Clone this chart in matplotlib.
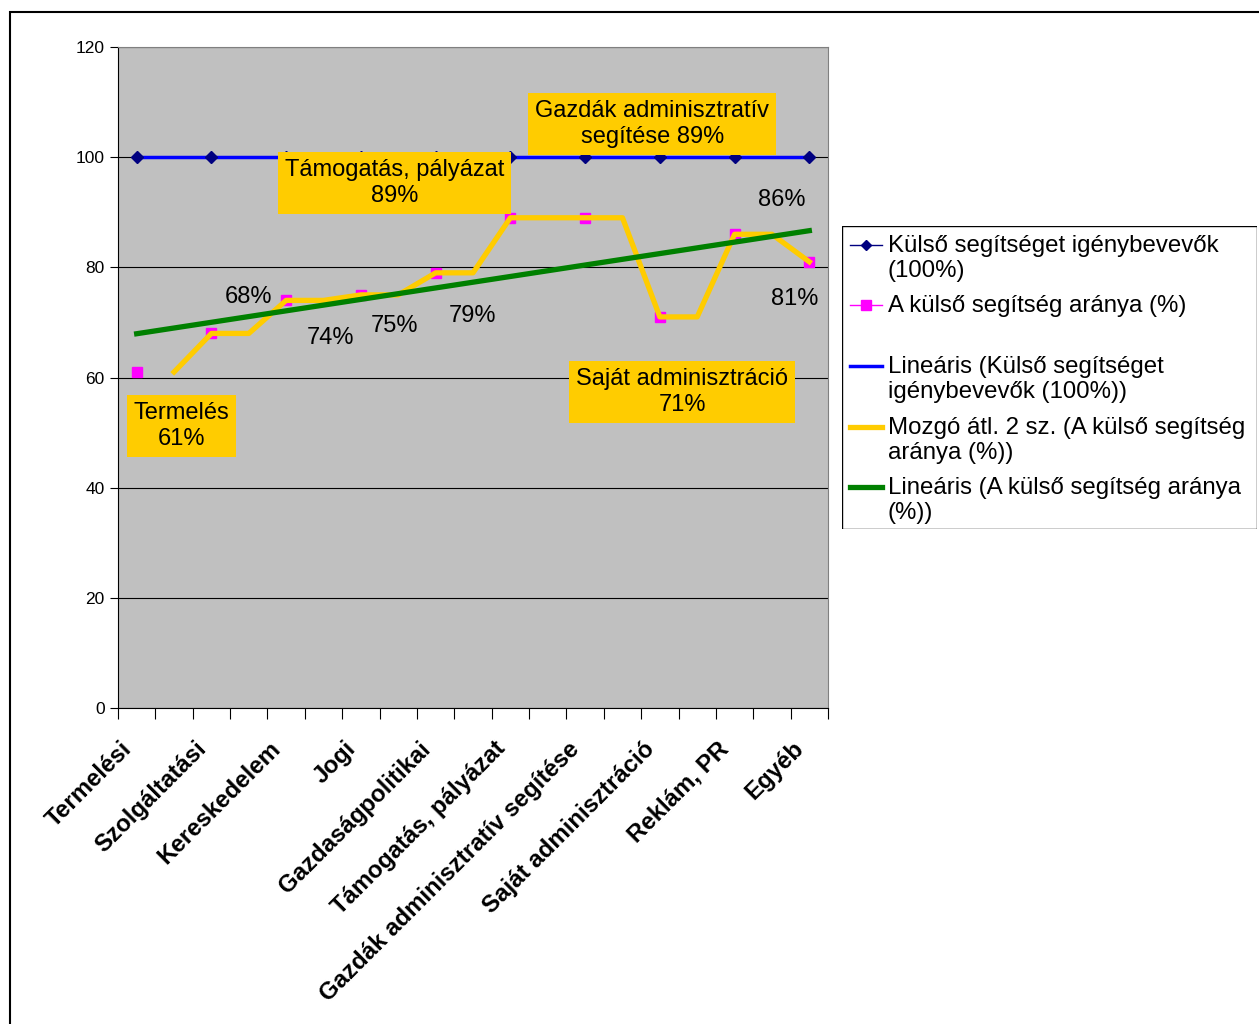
import numpy as np
import pandas as pd
import matplotlib.pyplot as plt
from matplotlib.patches import Rectangle
from matplotlib.transforms import ScaledTranslation

plt.rcParams['font.family'] = ['Liberation Sans', 'DejaVu Sans']

# Chart data
categories = ['Termelési', 'Szolgáltatási', 'Kereskedelem', 'Jogi', 'Gazdaságpolitikai',
              'Támogatás, pályázat', 'Gazdák adminisztratív segítése', 'Saját adminisztráció',
              'Reklám, PR', 'Egyéb']
igenybevevok = [100, 100, 100, 100, 100, 100, 100, 100, 100, 100]
arany = [61, 68, 74, 75, 79, 89, 89, 71, 86, 81]
label_texts = ['Termelés\n61%', '68%', '74%', '75%', '79%', 'Támogatás, pályázat\n89%',
               'Gazdák adminisztratív\nsegítése 89%', 'Saját adminisztráció\n71%', '86%', '81%']
legend_labels = ['Külső segítséget igénybevevők\n(100%)',
                 'A külső segítség aránya (%)',
                 'Lineáris (Külső segítséget\nigénybevevők (100%))',
                 'Mozgó átl. 2 sz. (A külső segítség\naránya (%))',
                 'Lineáris (A külső segítség aránya\n(%))']

W, H = 1259, 1024
fig = plt.figure(figsize=(W / 100, H / 100), dpi=100)
fig.patch.set_facecolor('white')
fig.patches.append(Rectangle((10 / W, -0.01), 1.1, 1 - 12 / H + 0.01, transform=fig.transFigure,
                             fill=False, edgecolor='black', linewidth=1.5))

ax = fig.add_axes([118 / W, 1 - 708 / H, 710 / W, 661 / H])
ax.set_facecolor('#C0C0C0')

# 19 category slots, data on every second one
n = 2 * len(categories) - 1
x_data = np.arange(0, n, 2)
full = pd.Series(np.nan, index=range(n))
full[x_data] = arany
mozgo = full.rolling(2, min_periods=1).mean()

# trend lines
k1 = np.polyfit(x_data, igenybevevok, 1)
k2 = np.polyfit(x_data, arany, 1)
x_tr = np.array([x_data[0], x_data[-1]])

ax.plot(x_data, igenybevevok, color='#000080', lw=1, zorder=3)
ax.plot(x_tr, np.polyval(k1, x_tr), color='#0000FF', lw=2.5, zorder=4)
ax.plot(x_data, igenybevevok, ls='none', marker='D', ms=6, color='#000080', zorder=5)
ax.plot(x_data, arany, ls='none', marker='s', ms=7.5, color='#FF00FF', zorder=3)
ax.plot(mozgo.index[1:], mozgo.values[1:], color='#FFCC00', lw=3.8, zorder=4)
ax.plot(x_tr, np.polyval(k2, x_tr), color='#008000', lw=3.8, zorder=5)

# data labels
label_pos = [(1.2, 51.2), (3.0, 74.6), (5.2, 67.2), (6.9, 69.3), (9.0, 71.2),
             (6.9, 95.3), (13.8, 106.0), (14.6, 57.4), (17.25, 92.2), (17.6, 74.2)]
boxed = [0, 5, 6, 7]
for i, (txt, (lx, ly)) in enumerate(zip(label_texts, label_pos)):
    kw = {}
    if i in boxed:
        kw['bbox'] = dict(boxstyle='square,pad=0.3', facecolor='#FFCC00', edgecolor='none')
    ax.text(lx, ly, txt, ha='center', va='center', fontsize=17, linespacing=1.25,
            zorder=6, **kw)

ax.set_xlim(-0.5, n - 0.5)
ax.set_ylim(0, 120)
ax.set_yticks(range(0, 121, 20))
ax.yaxis.grid(True, color='black', lw=0.8)
ax.set_axisbelow(True)
ax.tick_params(axis='y', length=6, labelsize=12.5, pad=3.5)

ax.set_xticks(np.arange(-0.5, n, 1))
ax.set_xticklabels([])
ax.tick_params(axis='x', which='major', length=8, direction='out')
ax.set_xticks(x_data, minor=True)
ax.set_xticklabels(categories, minor=True, rotation=45, ha='right', rotation_mode='anchor',
                   fontsize=17.3, fontweight='bold')
ax.tick_params(axis='x', which='minor', length=0, pad=16)
shift = ScaledTranslation(-0.17, -0.07, fig.dpi_scale_trans)
for lab in ax.get_xticklabels(minor=True):
    lab.set_transform(lab.get_transform() + shift)

for s in ['top', 'right']:
    ax.spines[s].set_color('#808080')

# legend drawn by hand, pixel coordinates
lax = fig.add_axes([842 / W, 1 - 529 / H, 415 / W, 303 / H])
lax.set_xlim(0, 415)
lax.set_ylim(303, 0)
lax.axis('off')
lax.add_patch(Rectangle((0, 0), 415, 303, fill=False, edgecolor='black', lw=1))
styles = [dict(color='#000080', lw=1, marker='D', ms=5, markevery=[1]),
          dict(color='#FF00FF', lw=1, marker='s', ms=7, markevery=[1]),
          dict(color='#0000FF', lw=2.5),
          dict(color='#FFCC00', lw=3.8),
          dict(color='#008000', lw=3.8)]
rows = [19, 79, 140, 201, 261]
for y, st, txt in zip(rows, styles, legend_labels):
    lax.plot([8, 24, 40], [y, y, y], **st)
    lax.text(46, y - 10, txt, ha='left', va='top', fontsize=17.3, linespacing=1.2)

plt.savefig('out.png', dpi=100)
